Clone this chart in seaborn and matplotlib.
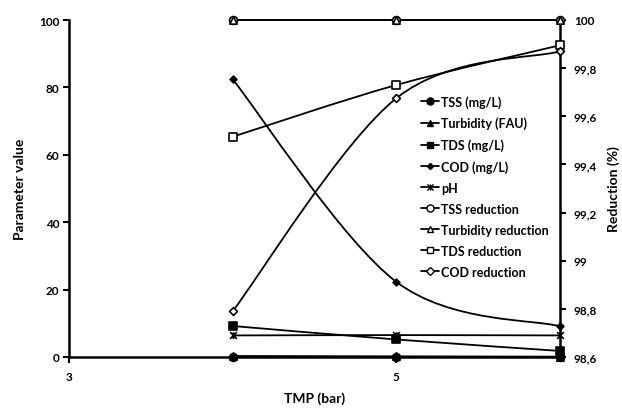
import numpy as np
import matplotlib
matplotlib.use("Agg")
import matplotlib.pyplot as plt
from matplotlib.path import Path
from matplotlib.patches import PathPatch
from matplotlib.lines import Line2D
from matplotlib.ticker import FuncFormatter
import seaborn as sns

# ---- data ----
tmp = [4, 5, 6]
tss = [0, 0, 0]
turbidity = [0.3, 0.2, 0.1]
tds = [9.2, 5.2, 1.8]
cod = [82.4, 22.3, 9.1]
ph = [6.4, 6.5, 6.4]
tss_red = [100, 100, 100]
turb_red = [100, 100, 100]
tds_red = [99.515, 99.73, 99.895]
cod_red = [98.79, 99.675, 99.87]

left_ticks = [0, 20, 40, 60, 80, 100]
right_ticks = [98.6, 98.8, 99.0, 99.2, 99.4, 99.6, 99.8, 100.0]
x_ticks = [3, 5]

sns.set_theme(style="white")
plt.rcParams['font.family'] = ['Lato', 'DejaVu Sans']
plt.rcParams['font.weight'] = 'bold'
plt.rcParams['text.color'] = 'black'
plt.rcParams['axes.labelcolor'] = 'black'
plt.rcParams['xtick.color'] = 'black'
plt.rcParams['ytick.color'] = 'black'

fig = plt.figure(figsize=(6.22, 4.10), dpi=100)
ax = fig.add_axes([69/622, 1-358/410, (560-69)/622, (358-21)/410])
ax2 = ax.twinx()

star = Path([(-1, -1), (1, 1), (-1, 1), (1, -1), (0, -1), (0, 1)],
            [Path.MOVETO, Path.LINETO, Path.MOVETO, Path.LINETO, Path.MOVETO, Path.LINETO])


def smooth_path(xs, ys):
    pts = np.column_stack([xs, ys]).astype(float)
    n = len(pts)
    verts = [pts[0]]
    codes = [Path.MOVETO]
    for i in range(n - 1):
        p0 = pts[max(i - 1, 0)]
        p1 = pts[i]
        p2 = pts[i + 1]
        p3 = pts[min(i + 2, n - 1)]
        c1 = p1 + (p2 - p0) / 6
        c2 = p2 - (p3 - p1) / 6
        verts += [c1, c2, p2]
        codes += [Path.CURVE4] * 3
    return Path(verts, codes)


LW = 1.3
series = [
    # label, values, axis, marker, size, face
    ("TSS (mg/L)", tss, ax, 'o', 32, 'black'),
    ("Turbidity (FAU)", turbidity, ax, '^', 28, 'black'),
    ("TDS (mg/L)", tds, ax, 's', 28, 'black'),
    ("COD (mg/L)", cod, ax, 'D', 12, 'black'),
    ("pH", ph, ax, star, 24, 'black'),
    ("TSS reduction", tss_red, ax2, 'o', 32, 'white'),
    ("Turbidity reduction", turb_red, ax2, '^', 28, 'white'),
    ("TDS reduction", tds_red, ax2, 's', 28, 'white'),
    ("COD reduction", cod_red, ax2, 'D', 16, 'white'),
]

handles = []
for label, vals, a, mk, sz, face in series:
    patch = PathPatch(smooth_path(tmp, vals), transform=a.transData, fill=False,
                      edgecolor='black', lw=LW, zorder=2, clip_on=False)
    a.add_patch(patch)
    sns.scatterplot(x=tmp, y=vals, ax=a, marker=mk, s=sz, color=face,
                    edgecolor='black', linewidth=1.2, zorder=3, clip_on=False,
                    legend=False)
    handles.append(Line2D([], [], color='black', lw=LW, marker=mk,
                          markersize=np.sqrt(sz) * 0.9, markerfacecolor=face,
                          markeredgecolor='black', markeredgewidth=1.0, label=label))

ax.set_xlim(3, 6)
ax.set_ylim(0, 100)
ax2.set_ylim(98.6, 100)
ax.set_xticks(x_ticks)
ax.set_yticks(left_ticks)
ax2.set_yticks(right_ticks)
ax2.yaxis.set_major_formatter(FuncFormatter(lambda v, p: f"{round(v, 1):g}".replace('.', ',')))

for a in (ax, ax2):
    a.spines['top'].set_visible(False)
    for s in a.spines.values():
        s.set_linewidth(1.8)
        s.set_color('black')
    a.tick_params(direction='out', length=4, width=1.5, labelsize=8.5, pad=3)
ax.spines['right'].set_visible(False)
ax2.spines['left'].set_visible(False)
ax2.spines['bottom'].set_visible(False)
ax.tick_params(axis='y', left=True)
ax.tick_params(axis='x', bottom=True, pad=6)
ax2.tick_params(axis='y', right=True, pad=6)

for t in ax.get_xticklabels() + ax.get_yticklabels() + ax2.get_yticklabels():
    t.set_fontweight('bold')

ax.set_xlabel("TMP (bar)", fontsize=10, fontweight='bold', labelpad=7)
ax.set_ylabel("Parameter value", fontsize=10, fontweight='bold', labelpad=9)
ax2.set_ylabel("Reduction (%)", fontsize=10, fontweight='bold', labelpad=7)

leg = fig.legend(handles=handles, loc='upper left', bbox_to_anchor=(421/622, 1-96/410),
                 frameon=False, fontsize=9, handlelength=1.4, handletextpad=0.2,
                 labelspacing=0.72, borderpad=0, borderaxespad=0)
for t in leg.get_texts():
    t.set_fontweight('bold')

fig.savefig("out.png", dpi=100)
